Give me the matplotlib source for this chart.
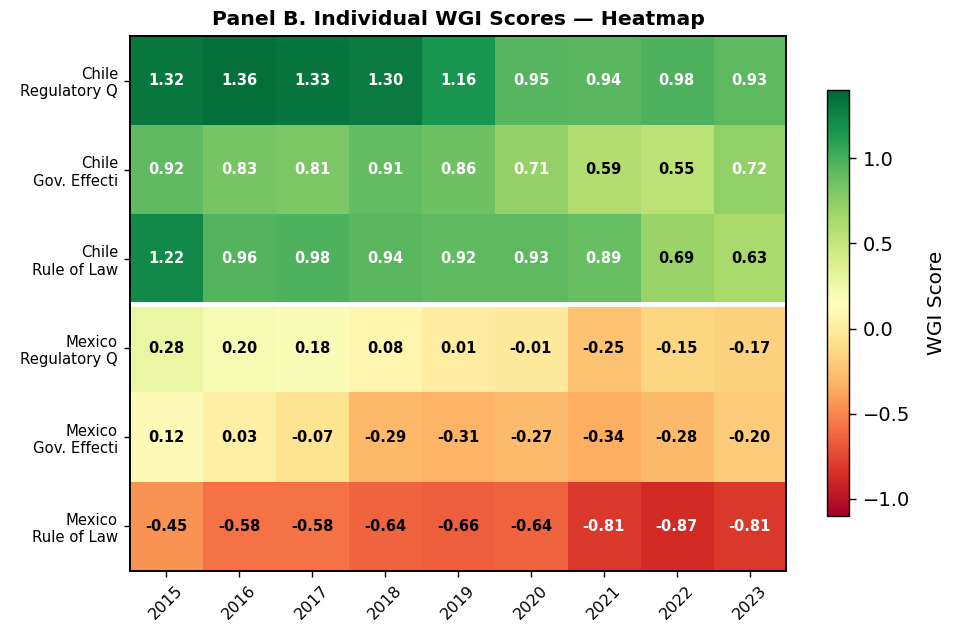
import matplotlib
matplotlib.use("Agg")
import matplotlib.pyplot as plt
import numpy as np

years = ["2015", "2016", "2017", "2018", "2019", "2020", "2021", "2022", "2023"]
row_labels = ["Chile\nRegulatory Q", "Chile\nGov. Effecti", "Chile\nRule of Law",
              "Mexico\nRegulatory Q", "Mexico\nGov. Effecti", "Mexico\nRule of Law"]
chile_rq = [1.32, 1.36, 1.33, 1.30, 1.16, 0.95, 0.94, 0.98, 0.93]
chile_ge = [0.92, 0.83, 0.81, 0.91, 0.86, 0.71, 0.59, 0.55, 0.72]
chile_rl = [1.22, 0.96, 0.98, 0.94, 0.92, 0.93, 0.89, 0.69, 0.63]
mexico_rq = [0.28, 0.20, 0.18, 0.08, 0.01, -0.01, -0.25, -0.15, -0.17]
mexico_ge = [0.12, 0.03, -0.07, -0.29, -0.31, -0.27, -0.34, -0.28, -0.20]
mexico_rl = [-0.45, -0.58, -0.58, -0.64, -0.66, -0.64, -0.81, -0.87, -0.81]

data = np.array([chile_rq, chile_ge, chile_rl, mexico_rq, mexico_ge, mexico_rl])

plt.rcParams.update({
    "xtick.major.size": 4.5, "ytick.major.size": 4.5,
    "xtick.major.pad": 4.2, "ytick.major.pad": 4.2,
    "xtick.major.width": 1.0, "ytick.major.width": 1.0,
})

fig = plt.figure(figsize=(9.55, 6.26), dpi=100)
ax = fig.add_axes([130/955, 1-571/626, 656/955, 535/626])
cax = fig.add_axes([827/955, 1-516/626, 22/955, 426/626])

im = ax.imshow(data, cmap="RdYlGn", vmin=-1.1, vmax=1.4, aspect="auto")
for i in range(data.shape[0]):
    for j in range(data.shape[1]):
        v = data[i, j]
        ax.text(j, i, f"{v:.2f}", ha="center", va="center", fontsize=10.5,
                fontweight="bold", color="white" if abs(v) > 0.7 else "black")

ax.axhline(2.5, color="white", linewidth=3.5)
ax.set_xticks(range(len(years)))
ax.set_xticklabels(years, rotation=45, fontsize=11.5)
ax.set_yticks(range(len(row_labels)))
ax.set_yticklabels(row_labels, fontsize=10.7)
for s in ax.spines.values():
    s.set_linewidth(1.4)
ax.set_title("Panel B. Individual WGI Scores — Heatmap", fontsize=14.7, fontweight="bold", pad=8)

cb = fig.colorbar(im, cax=cax)
cb.set_ticks([-1.0, -0.5, 0.0, 0.5, 1.0])
cb.ax.tick_params(labelsize=14, length=5, pad=5)
cb.outline.set_linewidth(1.0)
cb.set_label("WGI Score", fontsize=14.5, labelpad=12)

fig.savefig("out.png", dpi=100)
